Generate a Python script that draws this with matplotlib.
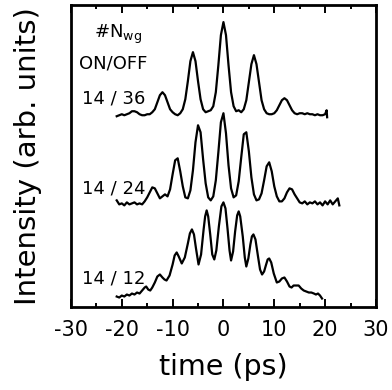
import matplotlib
matplotlib.use("Agg")
import matplotlib.pyplot as plt
from matplotlib.ticker import MultipleLocator

# time axis (ps) and intensity (arb. units, traces already offset)
t_36 = [-21.0, -20.5, -20.0, -19.5, -19.0, -18.5, -18.0, -17.5, -17.0, -16.5,
        -16.0, -15.5, -15.0, -14.5, -14.0, -13.5, -13.0, -12.5, -12.0, -11.5,
        -11.0, -10.5, -10.0, -9.5, -9.0, -8.5, -8.0, -7.5, -7.0, -6.5,
        -6.0, -5.5, -5.0, -4.5, -4.0, -3.5, -3.0, -2.5, -2.0, -1.5,
        -1.0, -0.5, 0.0, 0.5, 1.0, 1.5, 2.0, 2.5, 3.0, 3.5,
        4.0, 4.5, 5.0, 5.5, 6.0, 6.5, 7.0, 7.5, 8.0, 8.5,
        9.0, 9.5, 10.0, 10.5, 11.0, 11.5, 12.0, 12.5, 13.0, 13.5,
        14.0, 14.5, 15.0, 15.5, 16.0, 16.5, 17.0, 17.5, 18.0, 18.5,
        19.0, 19.5, 20.0, 20.3, 20.4]
y_36 = [190, 191, 192, 191, 192, 193, 195, 195, 194, 192,
        191, 191, 192, 192, 194, 197, 204, 211, 214, 211,
        204, 197, 194, 192, 191, 193, 197, 207, 225, 245,
        254, 245, 225, 207, 197, 194, 195, 196, 200, 214,
        241, 271, 284, 271, 241, 214, 200, 195, 196, 194,
        197, 206, 224, 242, 251, 242, 224, 206, 197, 193,
        192, 192, 193, 196, 201, 206, 208, 206, 201, 196,
        193, 192, 193, 193, 192, 193, 192, 192, 191, 192,
        191, 191, 192, 196, 189]

t_24 = [-21.0, -20.5, -20.0, -19.5, -19.0, -18.5, -18.0, -17.5, -17.0, -16.5,
        -16.0, -15.5, -15.0, -14.5, -14.0, -13.5, -13.0, -12.5, -12.0, -11.5,
        -11.0, -10.5, -10.0, -9.5, -9.0, -8.5, -8.0, -7.5, -7.0, -6.5,
        -6.0, -5.5, -5.0, -4.5, -4.0, -3.5, -3.0, -2.5, -2.0, -1.5,
        -1.0, -0.5, 0.0, 0.5, 1.0, 1.5, 2.0, 2.5, 3.0, 3.5,
        4.0, 4.5, 5.0, 5.5, 6.0, 6.5, 7.0, 7.5, 8.0, 8.5,
        9.0, 9.5, 10.0, 10.5, 11.0, 11.5, 12.0, 12.5, 13.0, 13.5,
        14.0, 14.5, 15.0, 15.5, 16.0, 16.5, 17.0, 17.5, 18.0, 18.5,
        19.0, 19.5, 20.0, 20.5, 21.0, 21.5, 22.0, 22.5, 22.8]
y_24 = [106, 102, 103, 101, 104, 102, 103, 104, 102, 103,
        102, 105, 109, 114, 119, 118, 113, 108, 110, 112,
        110, 117, 132, 146, 148, 135, 120, 109, 108, 116,
        136, 164, 181, 174, 147, 123, 109, 106, 110, 126,
        154, 184, 193, 173, 141, 118, 109, 111, 125, 149,
        172, 174, 155, 129, 112, 106, 107, 113, 126, 140,
        144, 135, 120, 110, 105, 105, 108, 114, 118, 117,
        112, 108, 104, 103, 105, 102, 104, 103, 105, 102,
        104, 101, 105, 102, 106, 102, 105, 108, 101]

t_12 = [-21.0, -20.5, -20.0, -19.5, -19.0, -18.5, -18.0, -17.5, -17.0, -16.5,
        -16.0, -15.5, -15.2, -14.8, -14.4, -14.0, -13.5, -13.0, -12.5, -12.0,
        -11.6, -11.2, -10.6, -10.0, -9.6, -9.2, -8.8, -8.2, -7.6, -7.0,
        -6.6, -6.2, -5.8, -5.4, -4.9, -4.4, -3.9, -3.6, -3.3, -3.0,
        -2.6, -2.2, -1.8, -1.4, -0.9, -0.4, 0.0, 0.4, 0.8, 1.2,
        1.5, 1.9, 2.3, 2.7, 3.0, 3.3, 3.8, 4.2, 4.5, 4.9,
        5.3, 5.6, 5.9, 6.3, 6.8, 7.2, 7.6, 8.0, 8.4, 8.7,
        9.0, 9.4, 9.9, 10.5, 11.0, 11.5, 12.0, 12.5, 13.0, 13.4,
        13.8, 14.2, 14.8, 15.3, 15.8, 16.3, 16.8, 17.3, 17.8, 18.2,
        18.6, 19.0, 19.4]
y_12 = [10, 9, 11, 10, 12, 11, 13, 12, 14, 13,
        16, 19, 20, 17, 16, 19, 24, 30, 32, 29,
        27, 26, 31, 42, 51, 54, 50, 43, 49, 63,
        73, 77, 72, 58, 42, 52, 77, 90, 96, 90,
        72, 52, 47, 56, 80, 100, 104, 98, 78, 56,
        46, 55, 75, 91, 95, 90, 70, 49, 40, 48,
        62, 70, 72, 67, 50, 37, 32, 35, 42, 47,
        48, 44, 33, 24, 25, 28, 29, 25, 20, 19,
        21, 21, 21, 18, 16, 15, 14, 14, 13, 12,
        13, 11, 8]

labels = ["14 / 36", "14 / 24", "14 / 12"]
label_y = [203, 113, 23]

plt.rcParams['font.family'] = ['DejaVu Sans']
plt.rcParams['axes.unicode_minus'] = False

fig = plt.figure(figsize=(3.92, 3.90), dpi=100)
ax = fig.add_axes([0.181, 0.214, 0.778, 0.773])

for t, y in [(t_36, y_36), (t_24, y_24), (t_12, y_12)]:
    ax.plot(t, y, color='black', lw=1.6)

for lab, ly in zip(labels, label_y):
    ax.text(-27.9, ly, lab, fontsize=13, ha='left', va='baseline')
ax.text(-28.5, 238, "ON/OFF", fontsize=13, ha='left', va='baseline')
ax.text(-25.5, 268, r"#N$_\mathregular{wg}$", fontsize=13, ha='left', va='baseline')

ax.set_xlim(-30, 30)
ax.set_ylim(0, 301)
ax.set_xticks([-30, -20, -10, 0, 10, 20, 30])
ax.xaxis.set_minor_locator(MultipleLocator(5))
ax.set_yticks([])
ax.tick_params(axis='x', which='both', direction='in', top=True, width=1.4, labelsize=15, pad=10)
ax.tick_params(axis='x', which='major', length=6)
ax.tick_params(axis='x', which='minor', length=3)
for s in ax.spines.values():
    s.set_linewidth(2)

ax.set_xlabel("time (ps)", fontsize=20.5, labelpad=9)
ax.set_ylabel("Intensity (arb. units)", fontsize=21)
ax.yaxis.set_label_coords(-0.095, 0.5)

fig.savefig("out.png", dpi=100)
